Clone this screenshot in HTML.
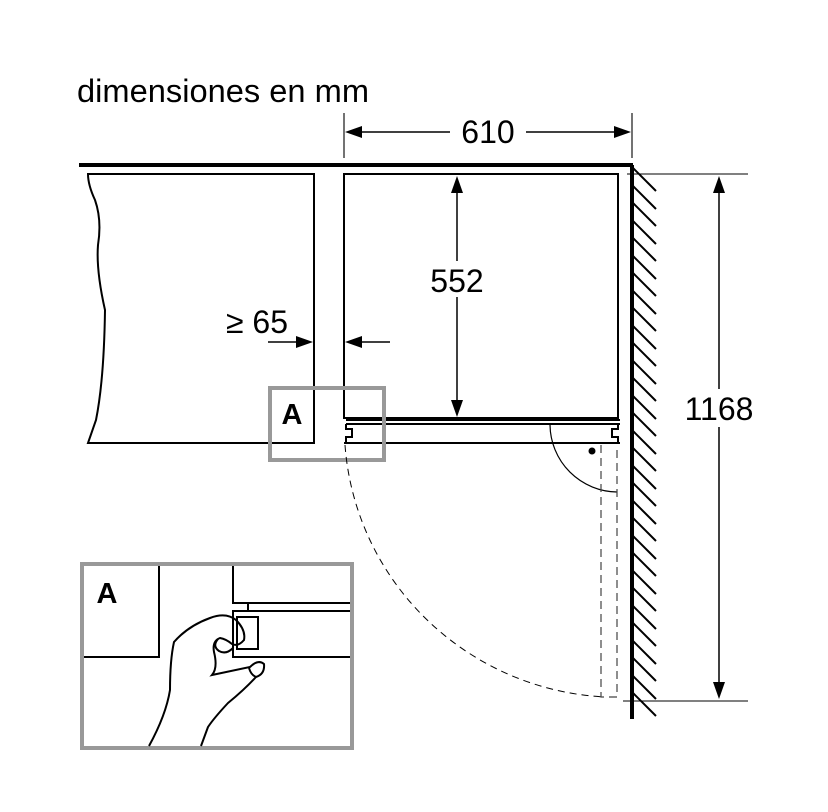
<!DOCTYPE html>
<html><head><meta charset="utf-8"><style>html,body{margin:0;padding:0;background:#fff}svg{display:block}</style></head>
<body>
<svg width="828" height="812" viewBox="0 0 828 812" xmlns="http://www.w3.org/2000/svg" font-family="Liberation Sans, Arial, sans-serif">
<rect width="828" height="812" fill="#fff"/>
<text x="77" y="102" font-size="32" fill="#000" textLength="292" lengthAdjust="spacingAndGlyphs">dimensiones en mm</text>

<!-- 610 dimension -->
<g stroke="#444" stroke-width="1.5">
<line x1="344" y1="113" x2="344" y2="158"/>
<line x1="632" y1="113" x2="632" y2="158"/>
</g>
<line x1="355" y1="132" x2="450" y2="132" stroke="#000" stroke-width="1.5"/>
<line x1="526" y1="132" x2="620" y2="132" stroke="#000" stroke-width="1.5"/>
<polygon points="345,132 362,126 362,138" fill="#000"/>
<polygon points="631,132 614,126 614,138" fill="#000"/>
<text x="488" y="143" font-size="32" text-anchor="middle">610</text>

<!-- top line -->
<line x1="79" y1="165" x2="633" y2="165" stroke="#000" stroke-width="4"/>

<!-- left cabinet -->
<path d="M88,174 L314,174 L314,443 L88,443 L96,420 Q104,380 105,310 Q96,270 98,245 Q102,220 95,200 Q88,185 88,174 Z" fill="none" stroke="#000" stroke-width="2"/>

<!-- appliance -->
<rect x="344" y="174" width="274" height="244" fill="none" stroke="#000" stroke-width="2"/>
<line x1="346" y1="420" x2="620" y2="420" stroke="#000" stroke-width="2"/>
<line x1="346" y1="424" x2="620" y2="424" stroke="#000" stroke-width="2"/>
<path d="M346,424 L346,429 L352,429 L352,437 L346,437 L346,443" fill="none" stroke="#000" stroke-width="2"/>
<path d="M618,424 L618,429 L612,429 L612,437 L618,437 L618,443" fill="none" stroke="#000" stroke-width="2"/>
<line x1="344" y1="443" x2="620" y2="443" stroke="#000" stroke-width="2"/>

<!-- 552 -->
<line x1="457" y1="190" x2="457" y2="405" stroke="#000" stroke-width="1.5"/>
<polygon points="457,176 451,193 463,193" fill="#000"/>
<polygon points="457,417 451,400 463,400" fill="#000"/>
<rect x="424" y="261" width="66" height="36" fill="#fff"/>
<text x="457" y="292" font-size="32" text-anchor="middle">552</text>

<!-- >=65 -->
<text x="257" y="333" font-size="32" text-anchor="middle">≥ 65</text>
<line x1="268" y1="342" x2="300" y2="342" stroke="#000" stroke-width="1.5"/>
<polygon points="313,342 296,336 296,348" fill="#000"/>
<line x1="360" y1="342" x2="390" y2="342" stroke="#000" stroke-width="1.5"/>
<polygon points="345,342 362,336 362,348" fill="#000"/>

<!-- A box -->
<rect x="270" y="388" width="114" height="72" fill="none" stroke="#999" stroke-width="4"/>
<text x="292" y="424" font-size="29" font-weight="bold" text-anchor="middle">A</text>

<!-- door swing -->
<path d="M345,445 A275,272 0 0 0 605,697" fill="none" stroke="#000" stroke-width="1" stroke-dasharray="7,5"/>
<path d="M550,425 A68,68 0 0 0 617,492" fill="none" stroke="#000" stroke-width="1.2"/>
<circle cx="592" cy="451" r="3.5" fill="#000"/>
<path d="M601,445 L601,697 L617,697 L617,445" fill="none" stroke="#444" stroke-width="1.2" stroke-dasharray="8,5"/>

<!-- wall -->
<line x1="632" y1="165" x2="632" y2="719" stroke="#000" stroke-width="4"/>
<g stroke="#000" stroke-width="2">
<line x1="633" y1="168" x2="656" y2="191"/><line x1="633" y1="186" x2="656" y2="209"/><line x1="633" y1="203" x2="656" y2="226"/><line x1="633" y1="221" x2="656" y2="244"/><line x1="633" y1="238" x2="656" y2="261"/><line x1="633" y1="256" x2="656" y2="279"/><line x1="633" y1="273" x2="656" y2="296"/><line x1="633" y1="291" x2="656" y2="314"/><line x1="633" y1="308" x2="656" y2="331"/><line x1="633" y1="326" x2="656" y2="349"/><line x1="633" y1="343" x2="656" y2="366"/><line x1="633" y1="361" x2="656" y2="384"/><line x1="633" y1="378" x2="656" y2="401"/><line x1="633" y1="396" x2="656" y2="419"/><line x1="633" y1="413" x2="656" y2="436"/><line x1="633" y1="431" x2="656" y2="454"/><line x1="633" y1="448" x2="656" y2="471"/><line x1="633" y1="466" x2="656" y2="489"/><line x1="633" y1="483" x2="656" y2="506"/><line x1="633" y1="501" x2="656" y2="524"/><line x1="633" y1="518" x2="656" y2="541"/><line x1="633" y1="536" x2="656" y2="559"/><line x1="633" y1="553" x2="656" y2="576"/><line x1="633" y1="571" x2="656" y2="594"/><line x1="633" y1="588" x2="656" y2="611"/><line x1="633" y1="606" x2="656" y2="629"/><line x1="633" y1="623" x2="656" y2="646"/><line x1="633" y1="641" x2="656" y2="664"/><line x1="633" y1="658" x2="656" y2="681"/><line x1="633" y1="676" x2="656" y2="699"/><line x1="633" y1="693" x2="656" y2="716"/>
</g>

<!-- 1168 -->
<line x1="627" y1="174" x2="748" y2="174" stroke="#000" stroke-width="1"/>
<line x1="623" y1="701" x2="748" y2="701" stroke="#000" stroke-width="1"/>
<line x1="719" y1="190" x2="719" y2="685" stroke="#000" stroke-width="1.5"/>
<polygon points="719,176 713,193 725,193" fill="#000"/>
<polygon points="719,699 713,682 725,682" fill="#000"/>
<rect x="683" y="389" width="74" height="38" fill="#fff"/>
<text x="719" y="420" font-size="32" text-anchor="middle">1168</text>

<!-- inset -->
<rect x="82" y="564" width="270" height="184" fill="#fff" stroke="#999" stroke-width="4"/>
<g fill="none" stroke="#000" stroke-width="2">
<path d="M84,657 L159,657 L159,566"/>
<path d="M233,566 L233,603 L350,603"/>
<line x1="248" y1="603" x2="248" y2="611"/>
<path d="M350,611 L233,611 L233,657 L350,657"/>
<rect x="237" y="617" width="21" height="32" fill="#fff"/>
<path d="M149,746 Q166,715 170,690 Q170,660 174,642 Q188,626 210,618 Q226,612 236,620 Q246,630 244,640 Q238,647 232,644 Q226,639 220,638 Q212,641 214,652 Q218,668 212,675 L250,667 Q258,659 264,664 Q265,674 256,677 Q244,690 228,703 Q214,718 208,727 L201,746"/>
<path d="M218,639 Q212,646 219,651 Q226,655 233,648"/>
<path d="M249,668 Q251,675 256,677"/>
</g>
<text x="107" y="603" font-size="29" font-weight="bold" text-anchor="middle">A</text>
</svg>
</body></html>
